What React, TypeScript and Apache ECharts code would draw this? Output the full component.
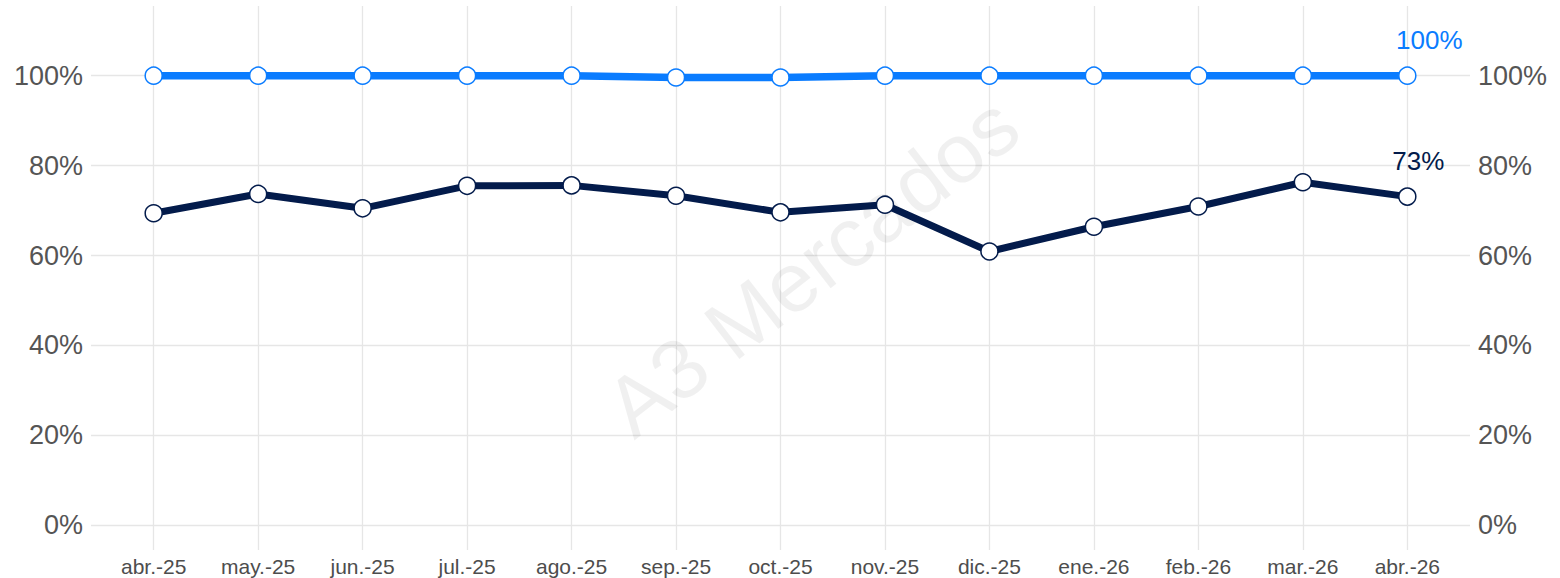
import React, { useEffect, useRef } from "react";
import * as echarts from "echarts";

const categories = [
  "abr.-25", "may.-25", "jun.-25", "jul.-25", "ago.-25", "sep.-25", "oct.-25",
  "nov.-25", "dic.-25", "ene.-26", "feb.-26", "mar.-26", "abr.-26",
];
const blueValues = [100, 100, 100, 100, 100, 99.6, 99.6, 100, 100, 100, 100, 100, 100];
const navyValues = [69.4, 73.7, 70.5, 75.5, 75.6, 73.3, 69.6, 71.3, 60.9, 66.4, 70.9, 76.3, 73.1];
const yTickLabels = ["0%", "20%", "40%", "60%", "80%", "100%"];

const BLUE = "#0A7CFF";
const NAVY = "#031B4B";

export default function App() {
  const ref = useRef<HTMLDivElement>(null);
  useEffect(() => {
    if (!ref.current) return;
    const chart = echarts.init(ref.current, null, { renderer: "svg" });
    const font = "'Liberation Sans', Arial, sans-serif";
    const yLabelFmt = (v: number) => {
      const idx = Math.round(v / 20);
      if (Math.abs(v - idx * 20) < 1e-6 && idx >= 0 && idx < yTickLabels.length) return yTickLabels[idx];
      return "";
    };
    const mkData = (vals: number[], color: string, dx: number) =>
      vals.map((v, i) => {
        const item: any = { value: [i, v] };
        if (i === vals.length - 1) {
          item.label = {
            show: true,
            position: "top",
            offset: [dx, -8],
            formatter: Math.round(v) + "%",
            color,
            fontSize: 26,
            fontFamily: font,
          };
        }
        return item;
      });
    const yAxisBase = {
      type: "value",
      min: -5.5,
      max: 115.5,
      minInterval: 20,
      maxInterval: 20,
      axisLine: { show: false },
      axisTick: { show: false },
      axisLabel: {
        formatter: yLabelFmt,
        fontSize: 27,
        color: "#555555",
        fontFamily: font,
        margin: 8,
        showMinLabel: false,
        showMaxLabel: false,
      },
    };
    chart.setOption({
      animation: false,
      backgroundColor: "#ffffff",
      grid: { left: 91, right: 90, top: 6, bottom: 28, containLabel: false },
      xAxis: {
        type: "value",
        min: -0.6,
        max: 12.6,
        minInterval: 1,
        maxInterval: 1,
        axisLine: { show: false },
        axisTick: { show: false },
        splitLine: { show: true, showMinLine: false, showMaxLine: false, lineStyle: { color: "#e6e6e6", width: 1.3 } },
        axisLabel: {
          formatter: (v: number) => {
            const i = Math.round(v);
            if (Math.abs(v - i) < 1e-6 && i >= 0 && i < categories.length) return categories[i];
            return "";
          },
          showMinLabel: false,
          showMaxLabel: false,
          fontSize: 21,
          color: "#4d4d4d",
          fontFamily: font,
          margin: 6,
        },
      },
      yAxis: [
        {
          ...yAxisBase,
          position: "left",
          splitLine: { show: true, showMinLine: false, showMaxLine: false, lineStyle: { color: "#e6e6e6", width: 1.3 } },
        },
        {
          ...yAxisBase,
          position: "right",
          splitLine: { show: false },
        },
      ],
      graphic: [
        {
          type: "text",
          x: 812,
          y: 266,
          rotation: 0.66,
          z: 1,
          silent: true,
          style: {
            text: "A3 Mercados",
            fontSize: 84,
            fontFamily: font,
            fill: "rgba(0,0,0,0.06)",
            align: "center",
            verticalAlign: "middle",
          },
        },
      ],
      series: [
        {
          type: "line",
          name: "blue",
          yAxisIndex: 0,
          data: mkData(blueValues, BLUE, 22),
          lineStyle: { color: BLUE, width: 7.5 },
          symbol: "circle",
          symbolSize: 17,
          itemStyle: { color: "#ffffff", borderColor: BLUE, borderWidth: 1.5 },
          z: 3,
        },
        {
          type: "line",
          name: "navy",
          yAxisIndex: 0,
          data: mkData(navyValues, NAVY, 11),
          lineStyle: { color: NAVY, width: 7 },
          symbol: "circle",
          symbolSize: 17,
          itemStyle: { color: "#ffffff", borderColor: NAVY, borderWidth: 1.5 },
          z: 4,
        },
      ],
    });
    return () => chart.dispose();
  }, []);
  return (
    <div
      ref={ref}
      style={{ position: "fixed", left: 0, top: 0, width: 1560, height: 578 }}
    />
  );
}
